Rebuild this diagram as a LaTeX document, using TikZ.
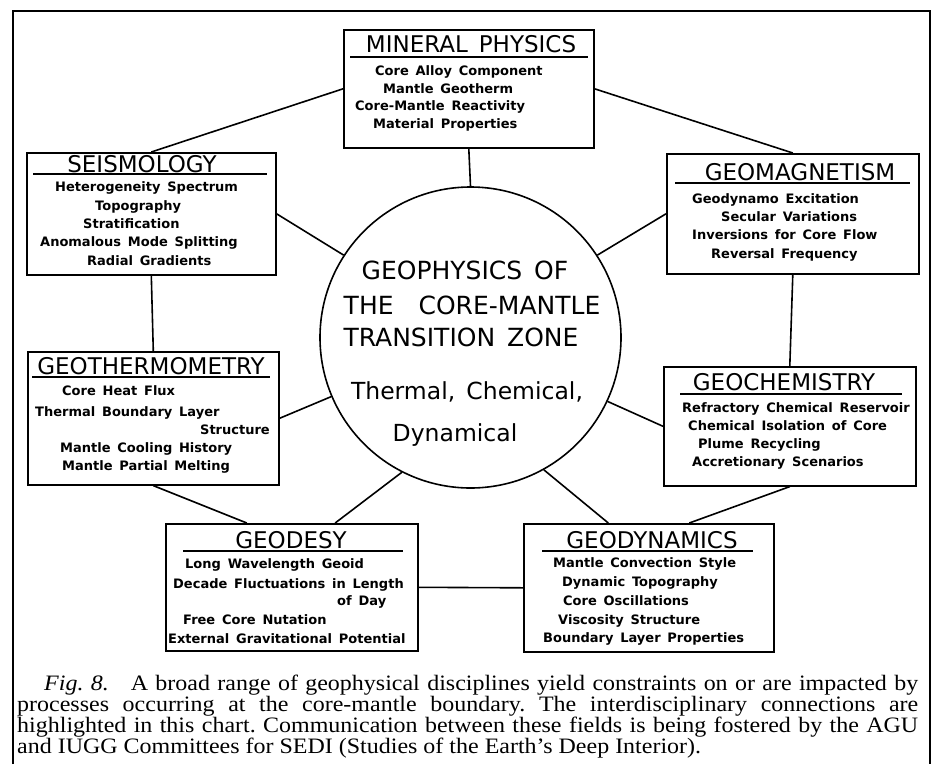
\documentclass[tikz,border=0pt]{standalone}
\usepackage{fontspec}
\setmainfont{DejaVu Sans}
\newfontfamily\ttlfont[WordSpace=1.6]{DejaVu Sans}
\newfontfamily\itmfont[WordSpace=1.5]{DejaVu Sans}
\newfontfamily\capfont[FakeStretch=1.09]{Liberation Serif}
\usetikzlibrary{calc}
\frenchspacing
\tikzset{
  frame/.style={line width=2.8pt},
  field/.style={draw,line width=1.6pt,inner sep=0pt,anchor=north west},
  hub/.style={draw,circle,line width=1.6pt,minimum size=301pt,inner sep=0pt},
  ttl/.style={font=\ttlfont\fontsize{23}{23}\selectfont,inner sep=0pt},
  rule/.style={line width=1.4pt},
  itm/.style={font=\itmfont\bfseries\fontsize{13}{14}\selectfont,inner sep=0pt,anchor=mid west},
  hubtxt/.style={font=\ttlfont\fontsize{25}{25}\selectfont,inner sep=0pt},
  hubsub/.style={font=\ttlfont\fontsize{23.5}{24}\selectfont,inner sep=0pt},
  link/.style={line width=1.6pt},
  capline/.style={font=\capfont\fontsize{22}{22}\selectfont,inner sep=0pt,anchor=base west},
}

\begin{document}
\begin{tikzpicture}[x=1pt,y=-1pt]
  \useasboundingbox (0,0) rectangle (937,764);
  % --- outer frame (open at the bottom) ---
  \draw[frame] (13,764) -- (13,11) -- (930,11) -- (930,764);

  % --- central circle ---
  \node[hub] (core) at (470.5,337.5) {};
  \node[hubtxt] (hub1) at (465,270) {GEOPHYSICS OF};
  \node[hubtxt] (hub2) at (472,305) {THE\quad CORE-MANTLE};
  \node[hubtxt] (hub3) at (461,337) {TRANSITION ZONE};
  \node[hubsub] (hub4) at (467,392) {Thermal, Chemical,};
  \node[hubsub] (hub5) at (455,435) {Dynamical};

  % --- mineral physics ---
  \node[field,minimum width=250pt,minimum height=118pt] (minphys) at (343,29) {};
  \node[ttl] (minphysT) at (471,44) {MINERAL PHYSICS};
  \draw[rule] (350,57) -- (588,57);
  \foreach \t/\x/\y [count=\i] in {Core Alloy Component/375/73,Mantle Geotherm/383/91,
      Core-Mantle Reactivity/355/108,Material Properties/373/126}
    \node[itm] (minphys\i) at (\x,\y) {\t};

  % --- seismology ---
  \node[field,minimum width=249pt,minimum height=122pt] (seis) at (26,152) {};
  \node[ttl] (seisT) at (142,164) {SEISMOLOGY};
  \draw[rule] (33,174) -- (267,174);
  \foreach \t/\x/\y [count=\i] in {Heterogeneity Spectrum/55/189,Topography/95/208,
      Stratification/83/226,Anomalous Mode Splitting/40/244,Radial Gradients/87/263}
    \node[itm] (seis\i) at (\x,\y) {\t};

  % --- geomagnetism ---
  \node[field,minimum width=252pt,minimum height=120pt] (geomag) at (666,153) {};
  \node[ttl] (geomagT) at (800,172) {GEOMAGNETISM};
  \draw[rule] (675,183) -- (910,183);
  \foreach \t/\x/\y [count=\i] in {Geodynamo Excitation/692/201,Secular Variations/721/219,
      Inversions for Core Flow/692/237,Reversal Frequency/711/256}
    \node[itm] (geomag\i) at (\x,\y) {\t};

  % --- geothermometry ---
  \node[field,minimum width=251pt,minimum height=133pt] (thermo) at (27,351) {};
  \node[ttl] (thermoT) at (151,366) {GEOTHERMOMETRY};
  \draw[rule] (32,377) -- (270,377);
  \foreach \t/\x/\y [count=\i] in {Core Heat Flux/62/393,Thermal Boundary Layer/35/414,
      Mantle Cooling History/60/450,Mantle Partial Melting/62/468}
    \node[itm] (thermo\i) at (\x,\y) {\t};
  \node[itm,anchor=mid east] (thermo5) at (270,432) {Structure};

  % --- geochemistry ---
  \node[field,minimum width=252pt,minimum height=119pt] (geochem) at (663,366) {};
  \node[ttl] (geochemT) at (784,382) {GEOCHEMISTRY};
  \draw[rule] (680,394) -- (902,394);
  \foreach \t/\x/\y [count=\i] in {Refractory Chemical Reservoir/682/410,
      Chemical Isolation of Core/688/428,Plume Recycling/698/446,Accretionary Scenarios/692/464}
    \node[itm] (geochem\i) at (\x,\y) {\t};

  % --- geodesy ---
  \node[field,minimum width=252pt,minimum height=127pt] (geodesy) at (165,523) {};
  \node[ttl] (geodesyT) at (291,540) {GEODESY};
  \draw[rule] (183,551) -- (403,551);
  \foreach \t/\x/\y [count=\i] in {Long Wavelength Geoid/185/566,
      Decade Fluctuations in Length/173/586,of Day/337/603,Free Core Nutation/183/622,
      External Gravitational Potential/168/641}
    \node[itm] (geodesy\i) at (\x,\y) {\t};

  % --- geodynamics ---
  \node[field,minimum width=250pt,minimum height=128pt] (geodyn) at (523,523) {};
  \node[ttl] (geodynT) at (652,540) {GEODYNAMICS};
  \draw[rule] (542,551) -- (753,551);
  \foreach \t/\x/\y [count=\i] in {Mantle Convection Style/553/565,Dynamic Topography/562/584,
      Core Oscillations/563/603,Viscosity Structure/558/622,Boundary Layer Properties/543/640}
    \node[itm] (geodyn\i) at (\x,\y) {\t};

  % --- connections ---
  \draw[link] (minphys.west) -- (seis.north);
  \draw[link] (minphys.east) -- (geomag.north);
  \draw[link] (minphys.south) -- (core.north);
  \draw[link] (seis.east) -- (core.147);
  \draw[link] (geomag.west) -- (core.33);
  \draw[link] (seis.south) -- (thermo.north);
  \draw[link] (geomag.south) -- (geochem.north);
  \draw[link] (thermo.east) -- (core.203);
  \draw[link] (geochem.west) -- (core.-25);
  \draw[link] (thermo.south) -- (geodesy.125);
  \draw[link] (geodesy.56) -- (core.243);
  \draw[link] (geodesy.east) -- (geodyn.west);
  \draw[link] (geodyn.122) -- (core.-61);
  \draw[link] (geodyn.58) -- (geochem.south);

  % --- caption ---
  \node[capline] (cap1) at (44,690)
       {\makebox[874pt][s]{\textit{Fig. 8.}\quad A broad range of geophysical disciplines yield constraints on or are impacted by}};
  \node[capline] (cap2) at (17,711)
       {\makebox[901pt][s]{processes occurring at the core-mantle boundary. The interdisciplinary connections are}};
  \node[capline] (cap3) at (17,732)
       {\makebox[901pt][s]{highlighted in this chart. Communication between these fields is being fostered by the AGU}};
  \node[capline] (cap4) at (17,753)
       {and IUGG Committees for SEDI (Studies of the Earth’s Deep Interior).};
\end{tikzpicture}
\end{document}
